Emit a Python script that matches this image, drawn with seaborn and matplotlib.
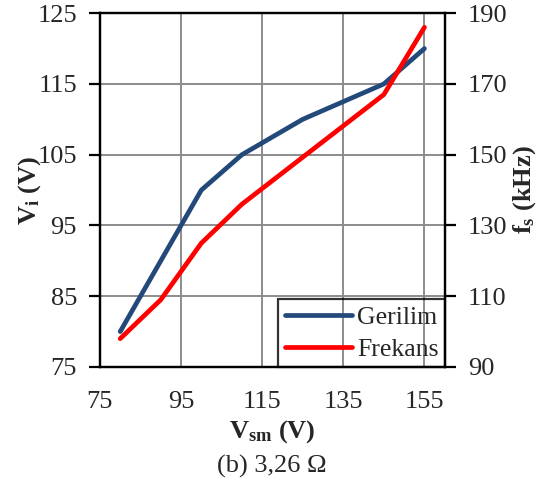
import numpy as np
import pandas as pd
import matplotlib
matplotlib.use('Agg')
import matplotlib.pyplot as plt
import seaborn as sns

# Gerilim (Vi) and Frekans (fs) against Vsm
vsm_gerilim = [80, 100, 110, 125, 145, 155]
vi = [80, 100, 105, 110, 115, 120]
vsm_frekans = [80, 90, 100, 110, 145, 155]
fs = [98, 109, 125, 136, 167, 186]

x_ticks = [75, 95, 115, 135, 155]
vi_ticks = [75, 85, 95, 105, 115, 125]
fs_ticks = [90, 110, 130, 150, 170, 190]

sns.set_style("white")
plt.rcParams['font.family'] = ['Liberation Serif', 'DejaVu Serif']
plt.rcParams['mathtext.fontset'] = 'custom'
plt.rcParams['mathtext.rm'] = 'Liberation Serif'
plt.rcParams['mathtext.bf'] = 'Liberation Serif:bold'

fig = plt.figure(figsize=(5.43, 4.88), dpi=100)
ax = fig.add_axes([0.184, 0.248, 0.635, 0.725])
ax2 = ax.twinx()

gerilim = pd.DataFrame({"Vsm": vsm_gerilim, "Vi": vi})
frekans = pd.DataFrame({"Vsm": vsm_frekans, "fs": fs})

sns.lineplot(data=gerilim, x="Vsm", y="Vi", ax=ax, color="#22497A", linewidth=3.4, label="Gerilim", legend=False)
sns.lineplot(data=frekans, x="Vsm", y="fs", ax=ax2, color="#FF0000", linewidth=3.4, label="Frekans", legend=False)

ax.set_xlim(75, 160)
ax.set_ylim(75, 125)
ax2.set_ylim(90, 190)
ax.set_xticks(x_ticks)
ax.set_yticks(vi_ticks)
ax2.set_yticks(fs_ticks)

ax.grid(True, color="#8c8c8c", linewidth=1.4)
ax.set_axisbelow(True)

for a in (ax, ax2):
    for s in a.spines.values():
        s.set_color("black")
        s.set_linewidth(1.6)
    a.tick_params(direction="out", length=8, width=1.6, labelsize=19, color="black", pad=8.5)
ax.tick_params(axis="x", pad=9)

ax.set_xlabel(r"$\mathbf{V_{sm}}$ (V)", fontsize=19, fontweight="bold", labelpad=4)
ax.set_ylabel(r"$\mathbf{V_{i}}$ (V)", fontsize=19, fontweight="bold", labelpad=-4)
ax2.set_ylabel(r"$\mathbf{f_{s}}$ (kHz)", fontsize=19, fontweight="bold", labelpad=3)

h1, l1 = ax.get_legend_handles_labels()
h2, l2 = ax2.get_legend_handles_labels()
leg = ax2.legend(h1 + h2, l1 + l2, loc="lower right", borderaxespad=0, fontsize=18.5,
                 frameon=True, fancybox=False, edgecolor="black", facecolor="none",
                 handlelength=2.6, handletextpad=0.2, labelspacing=0.35, borderpad=0.25)
leg.get_frame().set_linewidth(1.6)

fig.text(0.5, 0.045, "(b) 3,26 Ω", ha="center", va="center", fontsize=19)

fig.savefig("out.png", dpi=100)
